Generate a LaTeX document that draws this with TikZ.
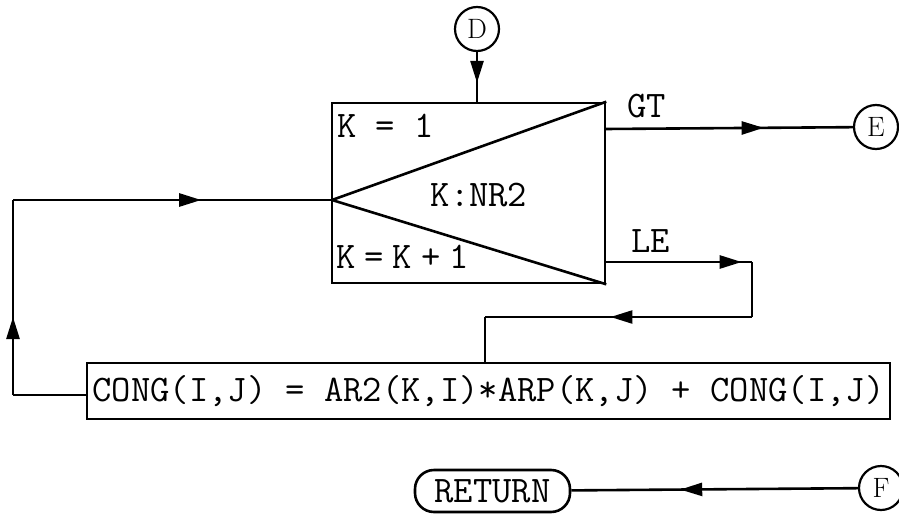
\documentclass[tikz,border=0pt]{standalone}
\usetikzlibrary{arrows.meta,decorations.markings}
\tikzset{
 ln/.style={line width=2.6pt},
 midarr/.style={postaction={decorate},decoration={markings,mark=at position #1 with {\arrow{Triangle[length=22pt,width=13pt]}}}},
 conn/.style={draw,circle,line width=2.2pt,minimum size=44pt,inner sep=0pt,font=\fontsize{28}{30}\selectfont\rmfamily},
 lbl/.style={font=\fontsize{37.5}{40}\selectfont\ttfamily,inner sep=0pt},
 boxst/.style={draw,line width=2.6pt,rectangle,inner sep=0pt},
}
\begin{document}
\begin{tikzpicture}[x=1pt,y=-1pt]
\useasboundingbox (0,0) rectangle (899,514);
% connectors
\node[conn] (D) at (477,29) {D};
\node[conn] (E) at (876,127) {E};
\node[conn] (F) at (881,488) {F};
% comparison box
\node[boxst,minimum width=273pt,minimum height=180pt] (cmp) at (468.5,193) {};
\coordinate (apex) at (332,200);
\draw[ln] (apex) -- (cmp.north east);
\draw[ln] (apex) -- (cmp.south east);
\node[lbl,anchor=west] (k1) at (337,126) {K = 1};
\node[lbl] (knr) at (479,195) {K:NR2};
\node[lbl,anchor=west] (kk) at (336,257) {K\hspace{0.24em}=\hspace{0.24em}K\hspace{0.24em}+\hspace{0.24em}1};
% statement box
\node[boxst,minimum width=803pt,minimum height=56pt,lbl] (cong) at (488.5,391) {CONG(I,J) = AR2(K,I)*ARP(K,J) + CONG(I,J)};
% return
\node[draw,line width=2.6pt,rounded corners=19pt,minimum width=155pt,minimum height=42pt,inner sep=0pt,lbl] (ret) at (492.5,491) {RETURN};
% edges
\draw[ln,midarr=0.62] (D) -- (D |- cmp.north);
\coordinate (gt) at (605,129);
\draw[ln,midarr=0.64] (gt) -- (E);
\node[lbl,anchor=south west] (gtl) at (627,118) {GT};
\coordinate (le) at (605,262);
\coordinate (c1) at (752,262);
\coordinate (c2) at (752,317);
\coordinate (c3) at (485,317);
\draw[ln,midarr=0.93] (le) -- (c1);
\draw[ln] (c1) -- (c2);
\draw[ln,midarr=0.53] (c2) -- (c3);
\draw[ln] (c3) -- (c3 |- cong.north);
\node[lbl,anchor=south west] (lel) at (631,253) {LE};
\coordinate (l1) at (13,395);
\coordinate (l2) at (13,200);
\draw[ln] (cong.west |- l1) -- (l1);
\draw[ln,midarr=0.4] (l1) -- (l2);
\draw[ln,midarr=0.59] (l2) -- (apex);
\draw[ln,midarr=0.62] (F) -- (ret);
\end{tikzpicture}
\end{document}
